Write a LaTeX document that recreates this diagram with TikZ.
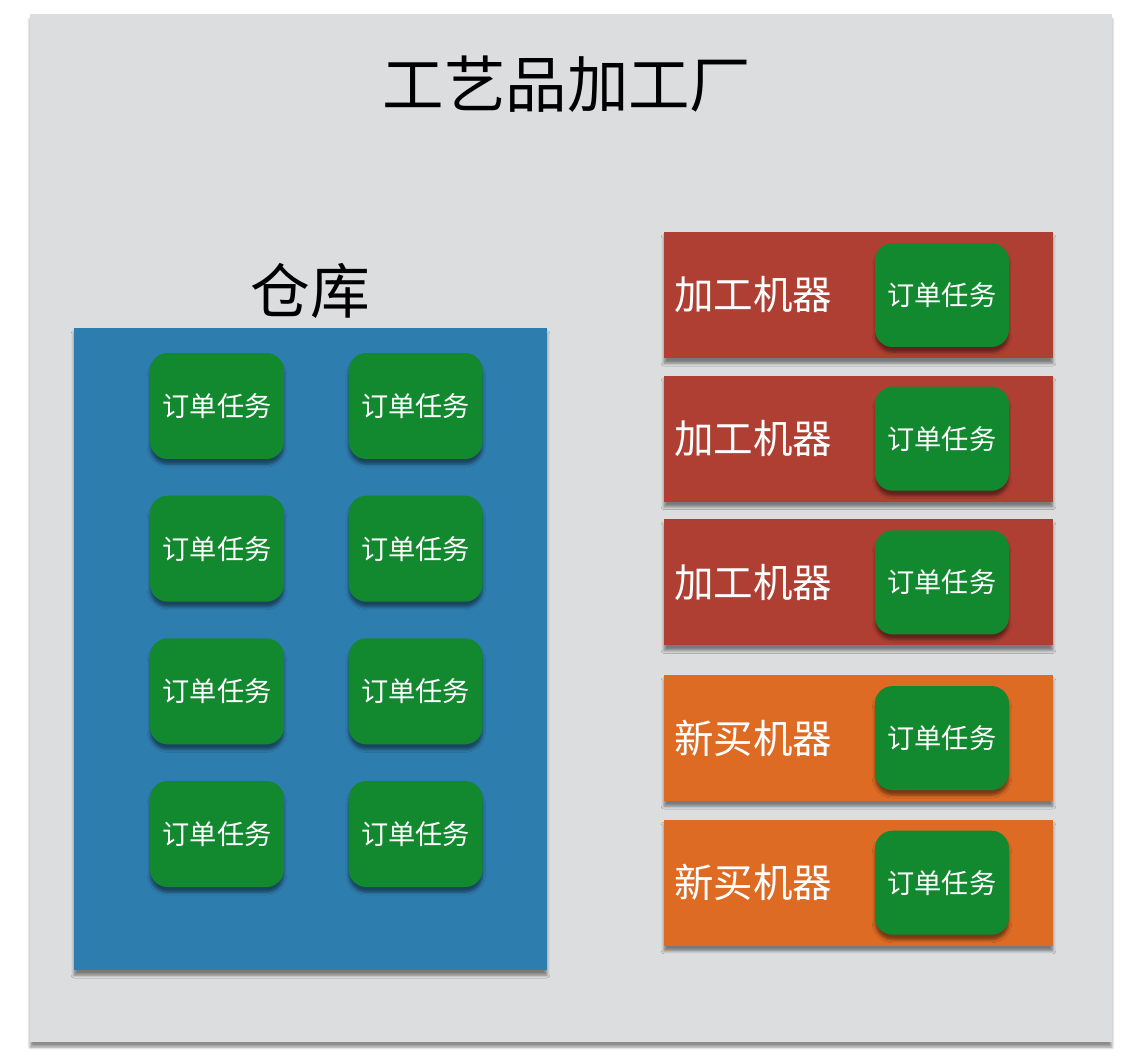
\documentclass[tikz,border=0pt]{standalone}
\usepackage{fontspec}
\setmainfont{Noto Sans CJK SC}
\usetikzlibrary{positioning,shadows.blur}

\definecolor{panelgray}{HTML}{DCDDDF}
\definecolor{storeblue}{HTML}{2E7DAF}
\definecolor{taskgreen}{HTML}{12882F}
\definecolor{oldred}{HTML}{B03F33}
\definecolor{neworange}{HTML}{DE6B24}

\begin{document}
\begin{tikzpicture}[x=0.02cm,y=-0.02cm,inner sep=0pt,
                    node distance=0.72cm and 1.28cm]
	  \tikzstyle{shade}=[blur shadow={shadow xshift=0pt,shadow yshift=-3pt,
	                     shadow blur radius=1.6pt,shadow opacity=45}]
	  \tikzstyle{task}=[shade,fill=taskgreen,text=white,rounded corners=10pt,
	                    minimum width=2.68cm,minimum height=2.12cm,
	                    font=\fontsize{15.5}{18}\selectfont]
	  \tikzstyle{machine}=[shade,minimum width=7.78cm,minimum height=2.52cm]
	  \tikzstyle{label}=[text=white,font=\fontsize{22.5}{26}\selectfont]

	  \useasboundingbox (0,0) rectangle (1144,1060);
	  \node[fill=panelgray,shade,minimum width=21.64cm,minimum height=20.56cm]
	       (factory) at (571,528) {};

	  \node (title) at (567,84) {\fontsize{35}{40}\selectfont 工艺品加工厂};

	  % warehouse
	  \node[fill=storeblue,shade,minimum width=9.46cm,minimum height=12.84cm]
	       (store) at (310.5,649) {};
	  \node (storename) [above=0.18cm of store.north] {\fontsize{34}{38}\selectfont 仓库};

	  \node[task]          (T11) at (217,406)     {订单任务};
	  \node[task]          (T12) [right=of T11]   {订单任务};
	  \node[task]          (T21) [below=of T11]   {订单任务};
	  \node[task]          (T22) [right=of T21]   {订单任务};
	  \node[task]          (T31) [below=of T21]   {订单任务};
	  \node[task]          (T32) [right=of T31]   {订单任务};
	  \node[task]          (T41) [below=of T31]   {订单任务};
	  \node[task]          (T42) [right=of T41]   {订单任务};

	  % machines
	  \node[machine,fill=oldred]    (M1) at (858.5,295)    {};
	  \node[machine,fill=oldred]    (M2) [below=0.34cm of M1] {};
	  \node[machine,fill=oldred]    (M3) [below=0.34cm of M2] {};
	  \node[machine,fill=neworange] (N1) [below=0.58cm of M3]  {};
	  \node[machine,fill=neworange] (N2) [below=0.36cm of N1] {};

	  \node[label] (LM1) [right=0.2cm of M1.west] {加工机器};
	  \node[label] (LM2) [right=0.2cm of M2.west] {加工机器};
	  \node[label] (LM3) [right=0.2cm of M3.west] {加工机器};
	  \node[label] (LN1) [right=0.2cm of N1.west] {新买机器};
	  \node[label] (LN2) [right=0.2cm of N2.west] {新买机器};

	  \node[task,minimum height=2.08cm] (TM1) [left=0.88cm of M1.east] {订单任务};
	  \node[task,minimum height=2.08cm] (TM2) [left=0.88cm of M2.east] {订单任务};
	  \node[task,minimum height=2.08cm] (TM3) [left=0.88cm of M3.east] {订单任务};
	  \node[task,minimum height=2.08cm] (TN1) [left=0.88cm of N1.east] {订单任务};
	  \node[task,minimum height=2.08cm] (TN2) [left=0.88cm of N2.east] {订单任务};
\end{tikzpicture}
\end{document}
